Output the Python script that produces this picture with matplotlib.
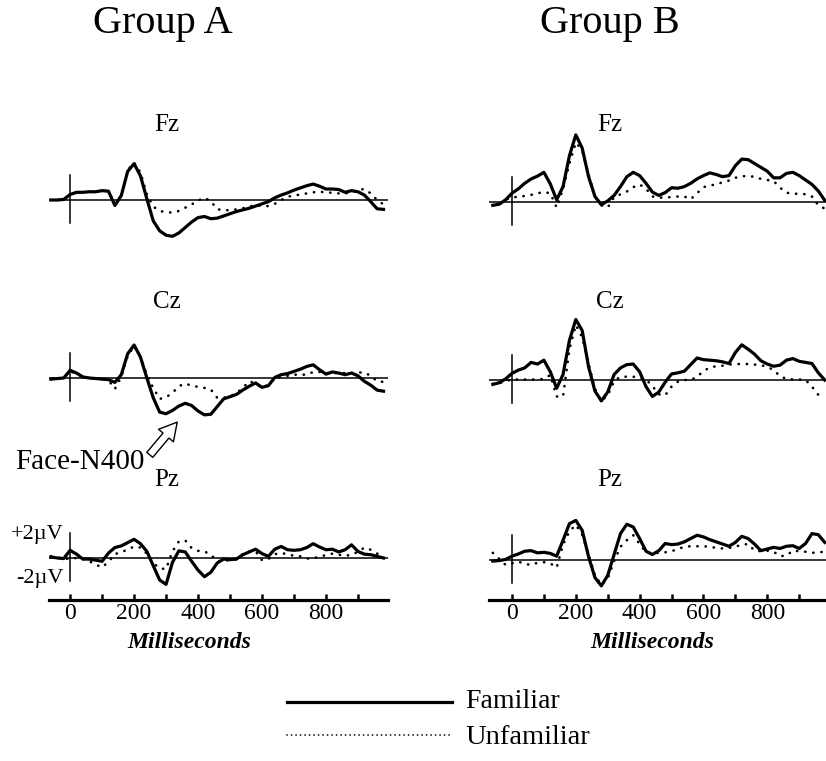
import matplotlib.pyplot as plt
from matplotlib.lines import Line2D
from matplotlib.patches import FancyArrowPatch

plt.rcParams['font.family'] = ['Liberation Serif', 'DejaVu Serif']

W, H = 826, 761

# time base (ms), one reading every 20 ms
T_MS = list(range(-60, 1000, 20))

# amplitudes in microvolts, positive up; FAM = familiar (solid), UNF = unfamiliar (dotted)
FZ_A_FAM = [0, 0, 0.05, 0.5, 0.7, 0.7, 0.75, 0.75, 0.85, 0.8, -0.5, 0.4, 2.6, 3.3, 2.2, 0.1,
            -1.9, -2.8, -3.2, -3.3, -3.0, -2.5, -2.0, -1.6, -1.5, -1.7, -1.65, -1.45, -1.25, -1.05,
            -0.9, -0.75, -0.55, -0.35, -0.15, 0.2, 0.45, 0.65, 0.9, 1.1, 1.3, 1.45, 1.25, 1.0,
            1.0, 0.95, 0.7, 0.85, 0.75, 0.45, -0.15, -0.8, -0.85]
FZ_A_UNF = [0, 0, 0.05, 0.5, 0.7, 0.7, 0.75, 0.75, 0.85, 0.8, -0.4, 0.4, 2.7, 3.4, 2.5, 0.5,
            -0.6, -1.0, -1.1, -1.15, -1.0, -0.7, -0.4, -0.05, 0.2, -0.1, -0.85, -0.9, -0.95, -0.85,
            -0.75, -0.6, -0.45, -0.55, -0.55, -0.35, 0.0, 0.3, 0.4, 0.5, 0.6, 0.7, 0.75, 0.7,
            0.65, 0.6, 0.6, 0.7, 0.9, 1.0, 0.6, 0.0, -0.4]
CZ_A_FAM = [-0.1, -0.05, 0, 0.7, 0.45, 0.1, 0, -0.05, -0.1, -0.15, -0.4, 0.3, 2.2, 3.0, 1.9, 0.0,
            -1.8, -3.1, -3.25, -2.95, -2.55, -2.3, -2.5, -3.0, -3.35, -3.3, -2.6, -1.9, -1.7, -1.5,
            -1.1, -0.75, -0.45, -0.85, -0.7, 0.05, 0.3, 0.4, 0.6, 0.8, 1.05, 1.2, 0.75, 0.35,
            0.55, 0.45, 0.3, 0.45, 0.2, -0.3, -0.65, -1.1, -1.2]
CZ_A_UNF = [-0.1, -0.05, 0, 0.6, 0.4, 0.1, 0, -0.05, -0.1, -0.2, -1.0, 0.1, 2.0, 2.9, 1.9, 0.3,
            -0.9, -1.9, -1.75, -1.35, -0.75, -0.5, -0.7, -0.8, -0.9, -1.05, -1.8, -1.8, -1.65, -1.4,
            -0.9, -0.3, -0.5, -0.9, -0.6, -0.05, 0.1, 0.2, 0.3, 0.3, 0.3, 0.55, 0.55, 0.45,
            0.45, 0.45, 0.45, 0.45, 0.5, 0.5, 0.2, -0.3, -0.35]
PZ_A_FAM = [0.1, 0.0, -0.05, 0.7, 0.35, -0.1, -0.1, -0.2, -0.3, 0.45, 0.95, 1.1, 1.4, 1.7, 1.3, 0.6,
            -0.7, -2.0, -2.4, -0.4, 0.65, 0.55, -0.3, -1.1, -1.7, -1.3, -0.45, -0.1, -0.15, -0.1,
            0.3, 0.55, 0.8, 0.4, 0.15, 0.8, 1.05, 0.75, 0.7, 0.75, 0.95, 1.3, 1.0, 0.75,
            0.8, 0.55, 0.75, 1.2, 0.6, 0.35, 0.3, 0.15, 0.0]
PZ_A_UNF = [0.15, 0.05, -0.1, -0.05, 0.0, -0.1, -0.3, -0.6, -0.85, -0.35, 0.35, 0.55, 0.75, 1.05, 0.95, 0.4,
            -0.45, -0.95, -1.0, 0.6, 1.5, 1.6, 0.9, 0.65, 0.6, 0.3, -0.3, -0.25, -0.2, -0.1,
            0.35, 0.6, 0.6, -0.2, -0.1, 0.35, 0.45, 0.35, 0.2, 0.15, -0.05, -0.05, 0.15, 0.25,
            0.4, 0.3, 0.2, 0.3, 0.55, 0.95, 0.75, 0.4, 0.15]

FZ_B_FAM = [-0.3, -0.2, 0.2, 0.8, 1.2, 1.7, 2.1, 2.35, 2.7, 1.65, 0.2, 1.4, 4.2, 6.1, 4.9, 2.3,
            0.5, -0.25, 0.1, 0.6, 1.4, 2.3, 2.7, 2.4, 1.7, 0.9, 0.6, 0.85, 1.3, 1.25,
            1.4, 1.7, 2.1, 2.4, 2.65, 2.5, 2.3, 2.4, 3.3, 3.9, 3.85, 3.5, 3.15, 2.8,
            2.2, 2.2, 2.6, 2.7, 2.4, 2.0, 1.6, 1.0, 0.15]
FZ_B_UNF = [-0.3, -0.2, 0.2, 0.45, 0.45, 0.55, 0.65, 0.8, 0.9, 0.8, -0.5, 1.2, 3.5, 5.4, 4.7, 2.5,
            0.5, -0.3, -0.5, 0.45, 0.7, 0.95, 1.35, 1.6, 1.2, 0.5, 0.4, 0.4, 0.45, 0.5,
            0.5, 0.25, 0.8, 1.35, 1.5, 1.6, 1.8, 1.95, 2.2, 2.35, 2.35, 2.3, 2.1, 2.0,
            1.9, 1.3, 0.85, 0.75, 0.75, 0.7, 0.5, -0.3, -0.6]
CZ_B_FAM = [-0.4, -0.25, 0.1, 0.6, 0.9, 1.1, 1.6, 1.45, 1.8, 0.75, -0.75, 0.5, 3.6, 5.5, 4.5, 1.2,
            -1.0, -1.9, -1.1, 0.5, 1.1, 1.4, 1.45, 0.75, -0.6, -1.5, -1.1, -0.2, 0.55, 0.65,
            0.8, 1.4, 2.0, 1.85, 1.8, 1.75, 1.65, 1.5, 2.5, 3.2, 2.8, 2.35, 1.75, 1.45,
            1.25, 1.35, 1.8, 1.95, 1.7, 1.6, 1.5, 0.65, 0.0]
CZ_B_UNF = [-0.35, -0.3, -0.1, 0.05, 0.05, 0.05, 0.05, 0.05, 0.1, 0.45, -1.5, -1.5, 2.8, 5.0, 3.9, 1.5,
            -0.8, -1.9, -1.4, -0.1, 0.3, 0.3, 0.3, 0.2, 0.05, -0.55, -1.3, -1.4, -0.6, -0.15,
            0, 0, 0.3, 0.8, 1.15, 1.25, 1.3, 1.4, 1.45, 1.45, 1.45, 1.4, 1.35, 1.2,
            0.9, 0.35, 0.1, 0.05, 0.05, 0.0, -0.6, -1.35, -1.65]
PZ_B_FAM = [-0.1, -0.05, 0.05, 0.35, 0.55, 0.8, 0.85, 0.65, 0.7, 0.6, 0.35, 1.8, 3.3, 3.6, 2.7, 0.3,
            -1.6, -2.35, -1.4, 0.5, 2.4, 3.25, 3.0, 1.95, 0.8, 0.5, 0.85, 1.5, 1.4, 1.45,
            1.65, 1.95, 2.25, 2.1, 1.85, 1.65, 1.45, 1.25, 1.6, 2.15, 1.95, 1.45, 0.85, 1.0,
            1.15, 1.05, 1.25, 1.3, 1.05, 1.5, 2.4, 2.3, 1.6]
PZ_B_UNF = [0.65, 0.1, -0.45, -0.3, -0.15, -0.35, -0.45, -0.25, -0.2, -0.3, -0.7, 1.4, 2.6, 3.2, 2.3, 0.5,
            -1.4, -2.25, -1.7, -0.1, 1.2, 1.8, 2.25, 1.45, 0.7, 0.6, 0.65, 0.7, 0.8, 1.0,
            1.2, 1.25, 1.25, 1.25, 1.2, 1.1, 1.05, 1.1, 1.2, 1.4, 1.45, 0.85, 0.8, 0.85,
            0.75, 0.35, 0.4, 0.85, 0.8, 0.75, 0.65, 0.7, 0.75]

CHANNELS = ['Fz', 'Cz', 'Pz']
GROUPS = ['Group A', 'Group B']
TICK_MAJOR = [0, 200, 400, 600, 800]
TICK_MINOR = [100, 300, 500, 700, 900]

UV_PX = 11.0          # pixels per microvolt
Y_LO, Y_HI = -4.5, 7.0


def fx(px):
    return px / W


def fy(py):
    return 1 - py / H


fig = plt.figure(figsize=(W / 100, H / 100), dpi=100)


def panel(x0, x1, xlim, base_px, fam, unf):
    bottom_px = base_px - Y_LO * UV_PX
    ax = fig.add_axes([fx(x0), fy(bottom_px), (x1 - x0) / W, (Y_HI - Y_LO) * UV_PX / H])
    ax.set_xlim(*xlim)
    ax.set_ylim(Y_LO, Y_HI)
    ax.axis('off')
    ax.axhline(0, color='black', lw=1.1)
    ax.plot([0, 0], [-2.1, 2.3], color='black', lw=1.1)
    ax.plot(T_MS, unf, color='black', lw=1.9, linestyle=(0, (0.1, 3.0)),
            dash_capstyle='round', clip_on=False)
    ax.plot(T_MS, fam, color='black', lw=2.3, clip_on=False)
    return ax


def ruler(x0, x1, xlim, y_px):
    ax = fig.add_axes([fx(x0), fy(y_px), (x1 - x0) / W, 0.01])
    ax.set_xlim(*xlim)
    for s in ['top', 'left', 'right']:
        ax.spines[s].set_visible(False)
    ax.spines['bottom'].set_linewidth(2.3)
    ax.set_yticks([])
    ax.set_xticks(TICK_MAJOR)
    ax.set_xticks(TICK_MINOR, minor=True)
    ax.set_xticklabels([str(t) for t in TICK_MAJOR])
    ax.tick_params(axis='x', which='both', direction='in', length=4, width=1.8, pad=2, labelsize=17)
    ax.patch.set_visible(False)
    return ax


left_x = (49, 388, (-66, 994))
right_x = (489, 826, (-72, 984))
left_base = [200, 378, 558]
right_base = [202, 380, 560]

panel(*left_x, left_base[0], FZ_A_FAM, FZ_A_UNF)
panel(*left_x, left_base[1], CZ_A_FAM, CZ_A_UNF)
panel(*left_x, left_base[2], PZ_A_FAM, PZ_A_UNF)
panel(*right_x, right_base[0], FZ_B_FAM, FZ_B_UNF)
panel(*right_x, right_base[1], CZ_B_FAM, CZ_B_UNF)
panel(*right_x, right_base[2], PZ_B_FAM, PZ_B_UNF)

ruler(*left_x, 600)
ruler(*right_x, 600)

# headings
fig.text(fx(163), fy(23), GROUPS[0], fontsize=29, ha='center', va='center')
fig.text(fx(610), fy(23), GROUPS[1], fontsize=29, ha='center', va='center')
for name, yl in zip(CHANNELS, [125, 302, 480]):
    fig.text(fx(167), fy(yl), name, fontsize=18, ha='center', va='center')
    fig.text(fx(610), fy(yl), name, fontsize=18, ha='center', va='center')

# axis captions
fig.text(fx(189), fy(643), 'Milliseconds', fontsize=17, fontweight='bold', fontstyle='italic',
         ha='center', va='center')
fig.text(fx(652), fy(643), 'Milliseconds', fontsize=17, fontweight='bold', fontstyle='italic',
         ha='center', va='center')
fig.text(fx(64), fy(535), '+2\u00b5V', fontsize=16, ha='right', va='center')
fig.text(fx(64), fy(578), '-2\u00b5V', fontsize=16, ha='right', va='center')

# Face-N400 callout
fig.text(fx(15), fy(462), 'Face-N400', fontsize=21, ha='left', va='center')
arrow = FancyArrowPatch((fx(148), fy(457)), (fx(179), fy(420)), transform=fig.transFigure,
                        arrowstyle='simple,head_length=0.9,head_width=1.0,tail_width=0.4',
                        mutation_scale=14, fc='white', ec='black', lw=1.0)
fig.add_artist(arrow)

# legend
fig.add_artist(Line2D([fx(287), fx(452)], [fy(702), fy(702)], transform=fig.transFigure,
                      color='black', lw=2.3))
fig.add_artist(Line2D([fx(287), fx(452)], [fy(735), fy(735)], transform=fig.transFigure,
                      color='black', lw=1.2, linestyle=(0, (0.1, 2.6)), dash_capstyle='round'))
fig.text(fx(465), fy(702), 'Familiar', fontsize=20, ha='left', va='center')
fig.text(fx(465), fy(737), 'Unfamiliar', fontsize=20.5, ha='left', va='center')

fig.savefig('out.png', dpi=100, facecolor='white')
